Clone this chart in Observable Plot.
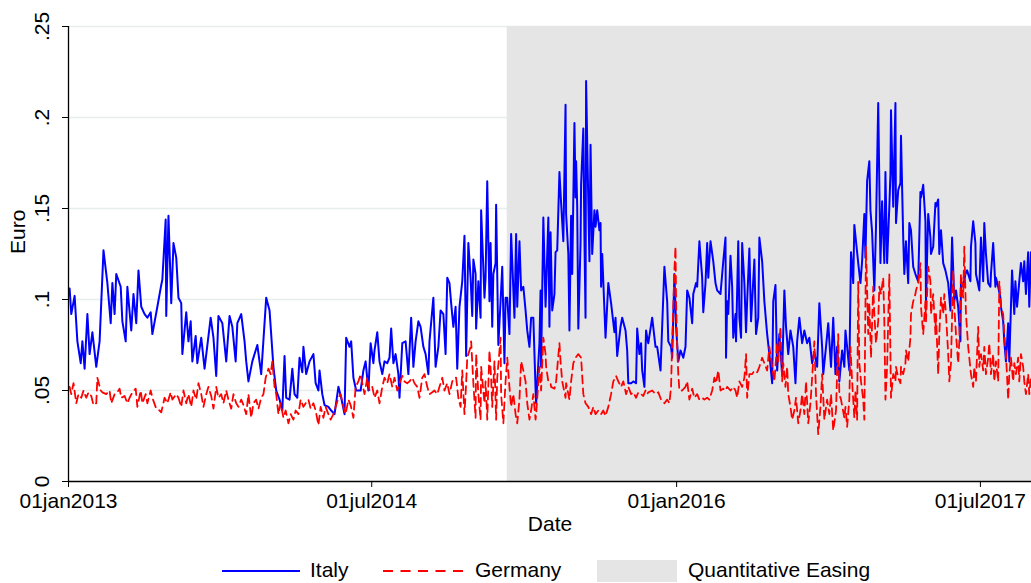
<!DOCTYPE html>
<html>
<head>
<meta charset="utf-8">
<script src="https://cdn.jsdelivr.net/npm/d3@7"></script>
<script src="https://cdn.jsdelivr.net/npm/@observablehq/plot@0.6"></script>
<style>
  html, body { margin: 0; padding: 0; background: #fff; }
  #chart { width: 1031px; }
  #legend { position: relative; width: 1031px; height: 35px; font-family: "Liberation Sans", Arial, sans-serif; font-size: 21px; color: #000; }
  #legend .it { position: absolute; }
</style>
</head>
<body>
<div id="chart"></div>
<div id="legend"></div>
<script>
// ---- data: [days since 01jan2013, euro] ----
const startDate = "2013-01-01";
const endDate = "2017-10-01";
const qeStart = "2015-03-02";

const italy = [[2,.106],[5,.092],[11,.102],[16,.077],[22,.065],[25,.077],[29,.062],[34,.092],[38,.070],[43,.082],[50,.063],[56,.077],[63,.127],[70,.109],[76,.087],[79,.109],[83,.092],[86,.114],[94,.107],[97,.088],[103,.077],[106,.107],[113,.083],[117,.103],[122,.087],[126,.116],[131,.096],[137,.092],[142,.090],[148,.093],[151,.081],[160,.096],[167,.108],[169,.111],[175,.144],[176,.091],[180,.146],[185,.098],[189,.131],[194,.123],[198,.101],[203,.098],[205,.070],[212,.093],[216,.077],[220,.088],[223,.066],[229,.080],[232,.065],[239,.079],[245,.062],[256,.090],[261,.079],[266,.058],[270,.091],[277,.087],[284,.066],[290,.091],[295,.085],[301,.066],[304,.087],[311,.092],[317,.077],[320,.066],[324,.055],[331,.066],[340,.075],[347,.059],
[356,.101],[362,.094],[369,.063],[374,.050],[380,.045],[385,.039],[389,.069],[392,.046],[398,.045],[403,.062],[407,.048],[412,.046],[416,.068],[421,.060],[423,.074],[428,.059],[434,.066],[441,.070],[445,.054],[450,.050],[452,.061],[457,.048],[461,.042],[468,.041],[473,.039],[479,.037],[486,.052],[491,.046],[497,.037],[500,.079],[506,.074],[509,.077],[513,.057],[518,.050],[526,.050],[531,.061],[535,.066],[540,.050],[544,.076],[549,.065],[551,.072],[556,.082],[560,.066],[565,.059],[569,.066],[574,.065],[578,.068],[581,.084],[585,.065],[589,.070],[594,.059],[596,.046],[601,.076],[607,.077],[612,.059],[617,.090],[621,.063],[625,.077],[630,.088],[634,.085],[639,.074],[643,.070],[648,.059],[650,.077],[657,.101],[661,.063],[666,.074],[670,.094],[675,.092],[679,.070],[682,.112],[686,.109],[689,.098],[693,.085],[697,.096],
[700,.062],[704,.096],[709,.110],[713,.135],[716,.069],[720,.131],[724,.112],[727,.091],[729,.122],[733,.114],[734,.084],[738,.110],[742,.090],[743,.149],[749,.101],[751,.112],[754,.165],[758,.099],[760,.131],[763,.085],[765,.114],[769,.120],[770,.152],[774,.075],[778,.099],[781,.118],[785,.065],[787,.101],[790,.101],[794,.081],[797,.136],[803,.090],[806,.136],[808,.096],[812,.132],[815,.105],[819,.107],[823,.094],[826,.083],[830,.074],[833,.090],[837,.090],[841,.051],[842,.043],[848,.076],[850,.105],[851,.063],[855,.145],[859,.096],[860,.105],[864,.145],[866,.085],[868,.137],[871,.094],[875,.103],[877,.126],[880,.127],[884,.170],[887,.153],[891,.132],[895,.207],[896,.147],[900,.125],[902,.083],[905,.146],[907,.114],[911,.197],[913,.156],[914,.176],[916,.151],[918,.084],[922,.131],[923,.163],[927,.194],[929,.134],[931,.090],[932,.220],[934,.186],[938,.121],[940,.185],[943,.125],[947,.149],[949,.140],[952,.149],[956,.138],[958,.142],[959,.107],[961,.125],[967,.079],[972,.109],[977,.098],[983,.082],[985,.090],[988,.069],[994,.085],[997,.090],[1003,.083],[1006,.072],[1008,.054],[1013,.054],[1017,.055],[1022,.054],[1024,.084],[1028,.070],[1031,.076],[1033,.061],[1037,.052],[1040,.083],[1042,.079],
[1044,.076],[1051,.090],[1057,.074],[1060,.074],[1066,.061],[1073,.118],[1078,.099],[1080,.077],[1085,.074],[1087,.068],[1091,.114],[1094,.085],[1098,.066],[1102,.072],[1107,.068],[1111,.074],[1114,.105],[1118,.101],[1123,.087],[1125,.103],[1130,.109],[1132,.107],[1136,.132],[1141,.112],[1143,.093],[1147,.109],[1150,.131],[1152,.112],[1156,.132],[1161,.121],[1165,.109],[1168,.105],[1174,.103],[1179,.121],[1183,.134],[1184,.068],[1186,.099],[1188,.092],[1192,.124],[1195,.107],[1197,.079],[1201,.092],[1202,.077],[1206,.132],[1208,.090],[1211,.079],[1213,.131],[1217,.109],[1220,.082],[1222,.099],[1226,.128],[1229,.088],[1231,.099],[1235,.122],[1238,.081],[1242,.090],[1244,.134],[1249,.121],[1253,.099],[1258,.081],[1262,.070],[1267,.054],[1269,.099],[1273,.108],[1276,.061],[1280,.081],[1285,.059],[1289,.105],[1292,.085],[1296,.070],[1300,.083],[1305,.074],[1309,.054],[1312,.077],[1316,.090],[1321,.076],[1325,.083],[1330,.076],[1334,.079],[1339,.065],[1343,.071],[1348,.063],[1352,.098],[1357,.074],[1359,.059],[1364,.074],[1368,.087],[1373,.063],[1377,.090],[1381,.059],[1384,.074],
[1388,.055],[1393,.072],[1397,.063],[1399,.083],[1402,.074],[1406,.061],[1409,.126],[1413,.109],[1415,.141],[1418,.132],[1422,.120],[1426,.109],[1429,.121],[1433,.147],[1435,.123],[1438,.165],[1442,.176],[1444,.149],[1447,.137],[1451,.105],[1454,.140],[1458,.208],[1462,.120],[1465,.154],[1469,.120],[1471,.170],[1474,.120],[1478,.151],[1480,.169],[1481,.204],[1485,.151],[1489,.208],[1490,.142],[1494,.160],[1498,.164],[1499,.190],[1503,.134],[1505,.114],[1508,.132],[1512,.109],[1514,.142],[1517,.138],[1521,.118],[1525,.114],[1530,.110],[1534,.159],[1535,.156],[1539,.163],[1543,.143],[1544,.099],[1548,.147],[1552,.134],[1553,.125],[1557,.129],[1561,.153],[1562,.151],[1566,.155],[1568,.125],[1571,.138],[1575,.120],[1579,.116],[1584,.109],[1588,.094],[1591,.134],[1595,.099],[1598,.105],[1602,.096],[1606,.077],[1607,.110],[1611,.107],[1615,.114],[1618,.116],[1624,.110],[1625,.129],[1629,.143],[1633,.131],[1634,.114],[1640,.105],[1643,.134],[1647,.110],[1649,.142],[1652,.125],[1656,.109],[1660,.107],[1661,.114],[1665,.131],[1669,.107],[1670,.112],[1674,.107],[1678,.101],[1679,.096],[1683,.088],[1685,.077],[1688,.066],[1692,.087],[1694,.066],[1697,.096],[1699,.116],[1703,.092],[1705,.110],[1708,.096],[1712,.110],[1715,.120],[1719,.110],[1721,.121],[1724,.103],[1728,.126],[1730,.096],[1733,.126]];

const germany = [[2,.052],[5,.048],[9,.054],[14,.043],[18,.048],[23,.046],[27,.050],[32,.046],[36,.049],[41,.047],[45,.042],[50,.043],[52,.057],[58,.050],[61,.049],[68,.048],[74,.050],[77,.043],[83,.048],[88,.049],[92,.051],[95,.046],[101,.047],[106,.043],[110,.046],[115,.049],[121,.051],[124,.041],[130,.050],[133,.043],[139,.048],[142,.043],[148,.050],[151,.046],[158,.040],[164,.039],[167,.038],[173,.046],[178,.043],[184,.049],[187,.045],[194,.048],[198,.046],[203,.041],[207,.050],[212,.043],[216,.048],[221,.041],[225,.050],[230,.045],[234,.054],[239,.048],[243,.041],[248,.048],[252,.052],[257,.047],[261,.040],[266,.052],[270,.046],[275,.048],[279,.043],[284,.050],[288,.045],[293,.040],[297,.048],[302,.043],[306,.041],[311,.045],[315,.042],[320,.037],[324,.048],[329,.035],[333,.043],[338,.045],[342,.040],[347,.046],[351,.048],
[355,.057],[360,.062],[364,.059],[367,.066],[371,.052],[374,.048],[378,.037],[382,.043],[387,.035],[391,.039],[396,.032],[400,.037],[405,.034],[409,.039],[414,.037],[418,.045],[423,.041],[427,.043],[432,.045],[436,.040],[441,.043],[445,.039],[450,.031],[454,.041],[459,.035],[463,.041],[468,.037],[472,.034],[477,.037],[481,.041],[486,.046],[490,.048],[495,.041],[499,.037],[504,.045],[508,.042],[513,.035],[517,.052],[522,.055],[526,.059],[529,.054],[533,.048],[538,.057],[542,.050],[547,.052],[551,.046],[556,.050],[560,.043],[565,.052],[569,.057],[574,.054],[578,.059],[583,.052],[587,.057],[592,.050],[596,.054],[601,.058],[605,.055],[610,.054],[614,.055],[619,.057],[623,.054],[628,.052],[632,.046],[637,.057],[641,.059],[646,.052],[650,.048],[655,.049],[659,.050],[664,.048],[668,.052],[673,.057],[677,.050],[682,.054],[686,.048],[691,.055],[695,.057],
[698,.057],[702,.046],[706,.041],[709,.061],[713,.037],[716,.054],[718,.068],[724,.074],[725,.077],[729,.054],[733,.035],[734,.070],[738,.048],[742,.034],[743,.063],[749,.043],[751,.055],[754,.034],[758,.072],[761,.057],[763,.041],[767,.066],[770,.034],[772,.057],[778,.079],[779,.048],[783,.032],[787,.055],[790,.068],[794,.052],[797,.041],[801,.048],[805,.037],[808,.032],[812,.045],[815,.066],[819,.061],[823,.055],[826,.043],[830,.034],[833,.039],[837,.048],[841,.034],[842,.037],[848,.063],[851,.050],[855,.079],[859,.070],[860,.063],[864,.055],[868,.054],[869,.052],[875,.051],[878,.055],[884,.076],[886,.066],[889,.055],[895,.046],[896,.054],[902,.045],[905,.055],[909,.065],[913,.068],[918,.070],[923,.068],[927,.048],[931,.043],[936,.041],[941,.037],[945,.041],[949,.037],[954,.039],[959,.037],[963,.039],[967,.036],[972,.041],[977,.048],[981,.055],[986,.058],[990,.055],[995,.052],[999,.055],[1004,.048],[1008,.052],[1013,.048],[1017,.049],[1022,.046],[1026,.049],[1031,.048],[1035,.047],[1039,.050],[1042,.048],
[1044,.049],[1051,.050],[1057,.048],[1062,.049],[1067,.045],[1073,.043],[1078,.045],[1082,.043],[1085,.052],[1087,.077],[1089,.096],[1091,.116],[1093,.129],[1094,.099],[1096,.074],[1098,.059],[1100,.050],[1105,.050],[1111,.052],[1114,.055],[1118,.045],[1123,.051],[1127,.046],[1132,.048],[1136,.045],[1141,.046],[1145,.045],[1150,.046],[1154,.045],[1159,.050],[1163,.057],[1166,.054],[1170,.061],[1174,.050],[1179,.051],[1183,.050],[1186,.052],[1192,.050],[1197,.052],[1201,.050],[1204,.046],[1208,.055],[1213,.052],[1217,.057],[1220,.070],[1222,.046],[1226,.059],[1231,.059],[1235,.061],[1240,.060],[1244,.063],[1249,.068],[1253,.065],[1258,.061],[1262,.074],[1267,.063],[1271,.055],[1276,.076],[1278,.066],[1282,.085],[1285,.055],[1287,.065],[1291,.052],[1294,.063],[1296,.048],[1300,.041],[1303,.034],[1307,.039],[1310,.046],[1314,.032],[1318,.039],[1321,.048],[1325,.037],[1328,.055],[1332,.032],[1336,.043],[1339,.057],[1343,.077],[1346,.048],[1350,.026],[1354,.041],[1357,.059],[1361,.034],[1366,.045],[1370,.037],[1373,.048],[1377,.028],[1382,.039],[1386,.081],[1388,.048],
[1391,.045],[1397,.035],[1399,.041],[1402,.030],[1406,.045],[1408,.074],[1411,.055],[1415,.035],[1417,.050],[1420,.034],[1422,.110],[1424,.065],[1427,.055],[1431,.045],[1433,.034],[1436,.129],[1440,.081],[1442,.098],[1445,.068],[1449,.107],[1451,.092],[1454,.076],[1458,.088],[1460,.107],[1463,.103],[1467,.112],[1469,.088],[1471,.045],[1474,.063],[1478,.114],[1480,.070],[1481,.046],[1485,.059],[1489,.055],[1490,.063],[1494,.057],[1498,.054],[1499,.063],[1503,.059],[1507,.065],[1508,.072],[1512,.066],[1516,.079],[1517,.092],[1521,.099],[1525,.103],[1526,.105],[1530,.109],[1534,.120],[1535,.096],[1539,.081],[1543,.099],[1544,.088],[1548,.118],[1552,.110],[1553,.092],[1557,.103],[1561,.081],[1562,.092],[1566,.059],[1568,.081],[1571,.101],[1575,.092],[1577,.103],[1580,.092],[1584,.070],[1586,.055],[1589,.065],[1593,.116],[1595,.096],[1598,.081],[1602,.065],[1604,.077],[1607,.114],[1611,.101],[1613,.129],[1616,.092],[1620,.074],[1622,.068],[1625,.059],[1629,.052],[1631,.063],[1634,.055],[1638,.085],[1640,.063],[1643,.070],[1647,.061],[1649,.074],[1652,.059],[1656,.068],[1658,.076],[1661,.059],[1665,.070],[1667,.055],[1670,.066],[1674,.055],[1676,.110],[1679,.096],[1683,.092],[1685,.081],[1688,.070],[1692,.045],[1694,.059],[1697,.068],[1701,.055],[1703,.065],[1706,.059],[1710,.068],[1712,.055],[1715,.070],[1719,.063],[1721,.055],[1724,.048],[1728,.059],[1730,.048],[1733,.057]];

const yTicks = [0, 0.05, 0.1, 0.15, 0.2, 0.25];
const xTickLabels = ["2013-01-01", "2014-07-01", "2016-01-01", "2017-07-01"];
const seriesNames = ["Italy", "Germany"];
const shadeName = "Quantitative Easing";
const axisTitles = { y: "Euro", x: "Date" };

// ---- build tables ----
const t0 = new Date(startDate + "T00:00:00Z");
const toRows = arr => arr.map(([d, v]) => ({ date: d3.utcDay.offset(t0, d), value: v }));
const italyRows = toRows(italy);
const germanyRows = toRows(germany);
const xTicks = xTickLabels.map(s => new Date(s + "T00:00:00Z"));
const xDomain = [t0, new Date(endDate + "T00:00:00Z")];
const qeRows = [{ x1: new Date(qeStart + "T00:00:00Z"), x2: xDomain[1], y1: 0, y2: 0.25 }];

const yFmt = d => d === 0 ? "0" : String(+d.toFixed(2)).replace(/^0/, "");
const xFmt = d => d3.utcFormat("%d%b%Y")(d).toLowerCase();

const chart = Plot.plot({
  width: 1031,
  height: 548,
  marginTop: 26,
  marginBottom: 67,
  marginLeft: 68,
  marginRight: 0,
  style: { fontFamily: "'Liberation Sans', Arial, sans-serif", fontSize: "21px", color: "#000", background: "#fff" },
  x: { type: "utc", domain: xDomain },
  y: { domain: [0, 0.25] },
  marks: [
    Plot.ruleY(yTicks.filter(d => d > 0), { stroke: "#e6eeee", strokeWidth: 1.4 }),
    Plot.rect(qeRows, { x1: "x1", x2: "x2", y1: "y1", y2: "y2", fill: "#e5e5e5" }),
    Plot.line(italyRows, { x: "date", y: "value", stroke: "#0000ff", strokeWidth: 2 }),
    Plot.line(germanyRows, { x: "date", y: "value", stroke: "#ff0000", strokeWidth: 1.8, strokeDasharray: "8,5" }),
    Plot.ruleX([t0], { y1: 0, y2: 0.25, stroke: "#000", strokeWidth: 1.3 }),
    Plot.ruleY([0], { stroke: "#000", strokeWidth: 1.3 }),
    Plot.axisY({ ticks: yTicks, tickSize: 6, tickFormat: () => "", label: null, stroke: "#000" }),
    Plot.text(yTicks, { y: d => d, text: yFmt, frameAnchor: "left", rotate: -90, dx: -26, fontSize: 21, textAnchor: "middle", lineAnchor: "middle", fill: "#000" }),
    Plot.axisX({ ticks: xTicks, tickSize: 6, tickPadding: 6, tickFormat: xFmt, fontSize: 21, label: null }),
    Plot.text([axisTitles.y], { frameAnchor: "left", dx: -50, rotate: -90, fontSize: 21, fill: "#000" }),
    Plot.text([axisTitles.x], { frameAnchor: "bottom", dy: 43, lineAnchor: "middle", fontSize: 21, fill: "#000" })
  ]
});
document.getElementById("chart").appendChild(chart);

// ---- legend ----
const lg = document.getElementById("legend");
lg.innerHTML = `
  <svg class="it" style="left:222px;top:15px" width="78" height="16"><line x1="0" y1="8" x2="78" y2="8" stroke="#0000ff" stroke-width="2"/></svg>
  <span class="it" style="left:310px;top:10px">${seriesNames[0]}</span>
  <svg class="it" style="left:383px;top:15px" width="80" height="16"><line x1="0" y1="8" x2="80" y2="8" stroke="#ff0000" stroke-width="2" stroke-dasharray="10,7.5"/></svg>
  <span class="it" style="left:475px;top:10px">${seriesNames[1]}</span>
  <div class="it" style="left:597px;top:12px;width:80px;height:22px;background:#e5e5e5"></div>
  <span class="it" style="left:688px;top:10px">${shadeName}</span>`;
</script>
</body>
</html>
